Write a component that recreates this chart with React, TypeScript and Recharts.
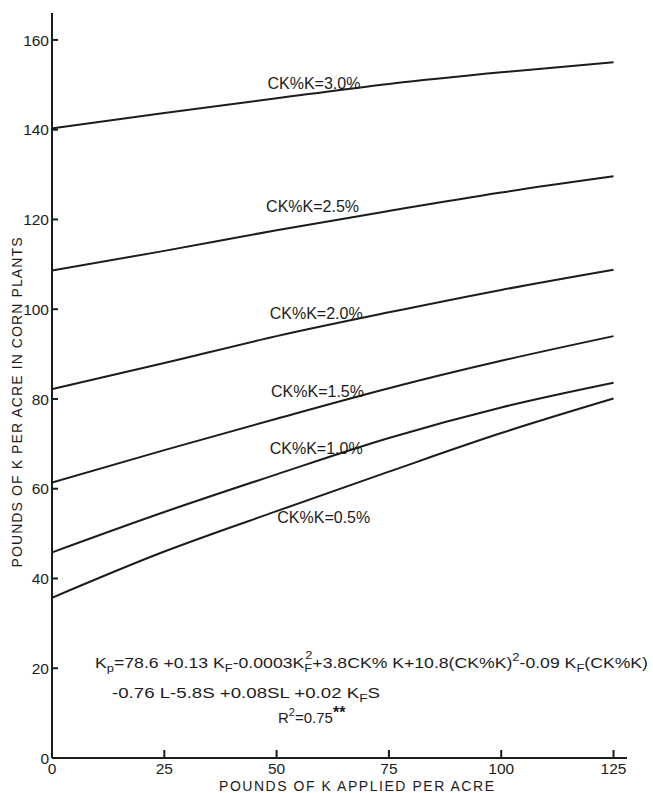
import {
  Customized,
  Label,
  Line,
  LineChart,
  ReferenceDot,
  XAxis,
  YAxis,
} from "recharts";

// pounds of K applied per acre
const kApplied = [0, 25, 50, 75, 100, 125];

// pounds of K per acre in corn plants, one curve per CK%K level
const ck30 = [140.3, 143.7, 147.0, 150.2, 152.8, 155.0];
const ck25 = [108.6, 113.0, 117.6, 121.9, 126.0, 129.6];
const ck20 = [82.2, 88.0, 94.0, 99.3, 104.3, 108.8];
const ck15 = [61.4, 68.6, 75.6, 82.4, 88.5, 94.0];
const ck10 = [45.8, 54.8, 63.2, 71.3, 78.1, 83.6];
const ck05 = [35.7, 46.0, 55.0, 63.8, 72.4, 80.1];

const seriesKeys = ["ck30", "ck25", "ck20", "ck15", "ck10", "ck05"];
const seriesValues = [ck30, ck25, ck20, ck15, ck10, ck05];

// curve labels, placed in data units
const labelText = [
  "CK%K=3.0%",
  "CK%K=2.5%",
  "CK%K=2.0%",
  "CK%K=1.5%",
  "CK%K=1.0%",
  "CK%K=0.5%",
];
const labelK = [58.3, 58.0, 58.8, 59.1, 58.8, 60.5];
const labelKp = [150.3, 122.9, 99.1, 81.8, 68.9, 53.6];

const xTicks = [0, 25, 50, 75, 100, 125];
const yTicks = [0, 20, 40, 60, 80, 100, 120, 140, 160];

const data = kApplied.map((k, i) => {
  const row: Record<string, number> = { k };
  seriesKeys.forEach((key, s) => {
    row[key] = seriesValues[s][i];
  });
  return row;
});

const FONT = '"Liberation Sans", Arial, sans-serif';
const INK = "#1c1c1c";

function YTick(props: any) {
  const { x, y, payload } = props;
  return (
    <g>
      <line x1={x + 3} x2={x + 9} y1={y} y2={y} stroke={INK} strokeWidth={2} />
      <text x={x} y={y} dy="0.36em" textAnchor="end" fontSize={15.5} fontFamily={FONT} fill={INK}>
        {payload.value}
      </text>
    </g>
  );
}

function XTick(props: any) {
  const { x, y, payload } = props;
  return (
    <g>
      <line x1={x} x2={x} y1={y - 10} y2={y - 18} stroke={INK} strokeWidth={2} />
      <text x={x} y={y} dy="0.36em" textAnchor="middle" fontSize={15.5} fontFamily={FONT} fill={INK}>
        {payload.value}
      </text>
    </g>
  );
}

function Equation() {
  const common = { fontFamily: FONT, fontSize: 15, fill: INK };
  return (
    <g>
      <text x={95} y={668} textLength={553} lengthAdjust="spacingAndGlyphs" {...common}>
        K<tspan dy={4} fontSize={11}>p</tspan>
        <tspan dy={-4}>=78.6 +0.13 K</tspan>
        <tspan dy={4} fontSize={11}>F</tspan>
        <tspan dy={-4}>-0.0003K</tspan>
        <tspan dy={4} fontSize={11}>F</tspan>
        <tspan dx={-6} dy={-13} fontSize={11}>2</tspan>
        <tspan dy={9}>+3.8CK% K+10.8(CK%K)</tspan>
        <tspan dy={-7} fontSize={11}>2</tspan>
        <tspan dy={7}>-0.09 K</tspan>
        <tspan dy={4} fontSize={11}>F</tspan>
        <tspan dy={-4}>(CK%K)</tspan>
      </text>
      <text x={112} y={698} textLength={268} lengthAdjust="spacingAndGlyphs" {...common}>
        -0.76 L-5.8S +0.08SL +0.02 K<tspan dy={4} fontSize={11}>F</tspan>
        <tspan dy={-4}>S</tspan>
      </text>
      <text x={278} y={723} {...common}>
        R<tspan dy={-7} fontSize={11}>2</tspan>
        <tspan dy={7}>=0.75</tspan>
        <tspan dy={-5} fontSize={16} fontWeight="bold">**</tspan>
      </text>
    </g>
  );
}

export default function App() {
  return (
    <div style={{ position: "absolute", left: 0, top: 0, background: "#fff" }}>
      <LineChart
        width={653}
        height={793}
        data={data}
        margin={{ top: 13, right: 26, bottom: 0, left: 0 }}
      >
        <XAxis
          dataKey="k"
          type="number"
          domain={[0, 128]}
          ticks={xTicks}
          allowDataOverflow
          axisLine={{ stroke: INK, strokeWidth: 2 }}
          tickLine={false}
          tickSize={0}
          tickMargin={10}
          tick={<XTick />}
          height={35}
        >
          <Label
            content={({ viewBox }: any) => (
              <text
                x={viewBox.x + viewBox.width / 2 + 17}
                y={786}
                dy="0.36em"
                textAnchor="middle"
                textLength={275}
                lengthAdjust="spacing"
                fontSize={14}
                fontFamily={FONT}
                fill={INK}
              >
                POUNDS OF K APPLIED PER ACRE
              </text>
            )}
          />
        </XAxis>
        <YAxis
          type="number"
          domain={[0, 166]}
          ticks={yTicks}
          allowDataOverflow
          axisLine={{ stroke: INK, strokeWidth: 2 }}
          tickLine={false}
          tickSize={0}
          tickMargin={3}
          tick={<YTick />}
          width={52}
        >
          <Label
            content={({ viewBox }: any) => {
              const cx = viewBox.x + 17;
              const cy = viewBox.y + viewBox.height / 2 + 17;
              return (
                <text
                  transform={`translate(${cx},${cy}) rotate(-90)`}
                  dy="0.36em"
                  textAnchor="middle"
                  textLength={330}
                  lengthAdjust="spacing"
                  fontSize={14}
                  fontFamily={FONT}
                  fill={INK}
                >
                  POUNDS OF K PER ACRE IN CORN PLANTS
                </text>
              );
            }}
          />
        </YAxis>
        {seriesKeys.map((key) => (
          <Line
            key={key}
            dataKey={key}
            type="monotone"
            stroke={INK}
            strokeWidth={2}
            dot={false}
            activeDot={false}
            isAnimationActive={false}
          />
        ))}
        {labelText.map((t, i) => (
          <ReferenceDot
            key={t}
            x={labelK[i]}
            y={labelKp[i]}
            r={0}
            fill="none"
            stroke="none"
            label={{
              value: t,
              position: "center",
              fontSize: 16,
              fontFamily: FONT,
              fill: INK,
            }}
          />
        ))}
        <Customized component={Equation} />
      </LineChart>
    </div>
  );
}
